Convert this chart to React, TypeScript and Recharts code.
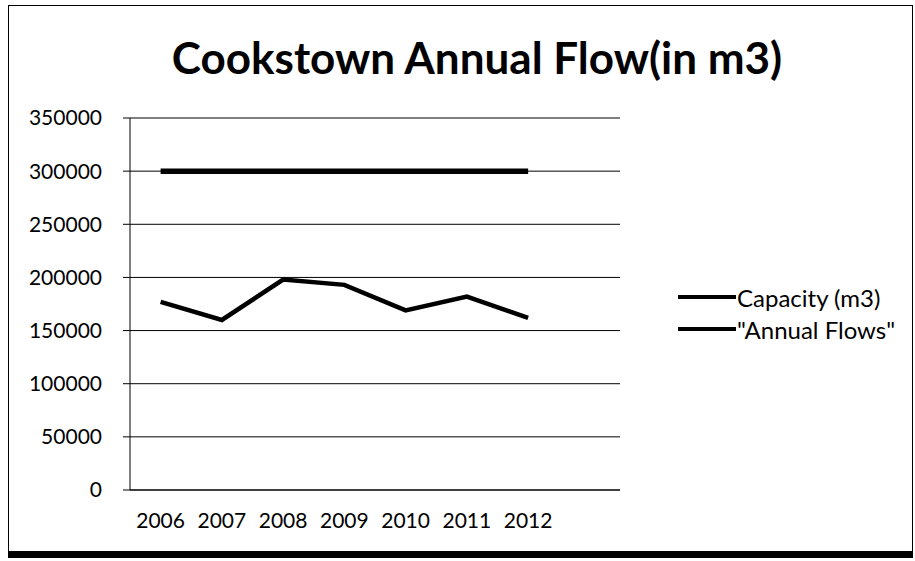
import { CartesianGrid, Legend, Line, LineChart, XAxis, YAxis } from "recharts";

// Cookstown annual flow vs plant capacity (m3).
const years = ["2006", "2007", "2008", "2009", "2010", "2011", "2012", ""];
const capacity = [300000, 300000, 300000, 300000, 300000, 300000, 300000];
const annualFlows = [177000, 160000, 198000, 193000, 169000, 182000, 162000];
const yTicks = [0, 50000, 100000, 150000, 200000, 250000, 300000, 350000];
const slotTicks = [0, 1, 2, 3, 4, 5, 6, 7, 8];
const seriesNames = ["Capacity (m3)", '"Annual Flows"'];

const data = years.map((year, i) => ({
  year,
  capacity: capacity[i],
  flows: annualFlows[i],
}));

const FONT = "Lato, 'Open Sans', sans-serif";

function LegendBox({ payload }: { payload?: { value: string }[] }) {
  const items = [...(payload ?? [])].sort(
    (a, b) => seriesNames.indexOf(a.value) - seriesNames.indexOf(b.value),
  );
  return (
    <div style={{ fontFamily: FONT, fontSize: 24, color: "#000" }}>
      {items.map((p, i) => (
        <div key={i} style={{ display: "flex", alignItems: "center", height: 32 }}>
          <span
            style={{
              display: "inline-block",
              width: 58,
              height: 4,
              background: "#000",
              marginRight: 1,
            }}
          />
          <span>{p.value}</span>
        </div>
      ))}
    </div>
  );
}

export default function App() {
  return (
    <div
      style={{
        position: "absolute",
        left: 0,
        top: 0,
        width: 915,
        height: 561,
        background: "#fff",
        fontFamily: FONT,
      }}
    >
      <div
        style={{
          position: "absolute",
          left: 8,
          top: 5,
          width: 903,
          height: 545,
          border: "1px solid #000",
          borderBottom: "7px solid #000",
        }}
      />
      <div
        style={{
          position: "absolute",
          left: 477,
          top: 31,
          transform: "translateX(-50%)",
          whiteSpace: "nowrap",
          fontSize: 44,
          fontWeight: 700,
          color: "#000",
        }}
      >
        Cookstown Annual Flow(in m3)
      </div>
      <LineChart
        width={915}
        height={561}
        data={data}
        margin={{ top: 118, right: 295, bottom: 23, left: 10 }}
        style={{ position: "absolute", left: 0, top: 0 }}
      >
        <CartesianGrid xAxisId="years" vertical={false} stroke="#000" strokeWidth={1} />
        {/* tick marks between the year slots, sits right under the plot */}
        <XAxis
          xAxisId="slots"
          type="number"
          domain={[0, 8]}
          ticks={slotTicks}
          tick={false}
          tickSize={7}
          height={8}
          stroke="#000"
        />
        <XAxis
          xAxisId="years"
          dataKey="year"
          scale="band"
          axisLine={false}
          tickLine={false}
          tickSize={0}
          tickMargin={15}
          height={40}
          interval={0}
          tick={{ fill: "#000", fontSize: 21, fontFamily: FONT }}
        />
        <YAxis
          domain={[0, 350000]}
          ticks={yTicks}
          width={120}
          tickSize={7}
          tickMargin={21}
          stroke="#000"
          tick={{ fill: "#000", fontSize: 21, fontFamily: FONT }}
        />
        <Legend
          layout="horizontal"
          verticalAlign="middle"
          content={<LegendBox />}
          wrapperStyle={{ left: 678, top: 281, width: 235 }}
        />
        <Line
          xAxisId="years"
          name={seriesNames[0]}
          dataKey="capacity"
          stroke="#000"
          strokeWidth={5.5}
          dot={false}
          activeDot={false}
          isAnimationActive={false}
        />
        <Line
          xAxisId="years"
          name={seriesNames[1]}
          dataKey="flows"
          stroke="#000"
          strokeWidth={4.5}
          dot={false}
          activeDot={false}
          isAnimationActive={false}
        />
      </LineChart>
    </div>
  );
}
